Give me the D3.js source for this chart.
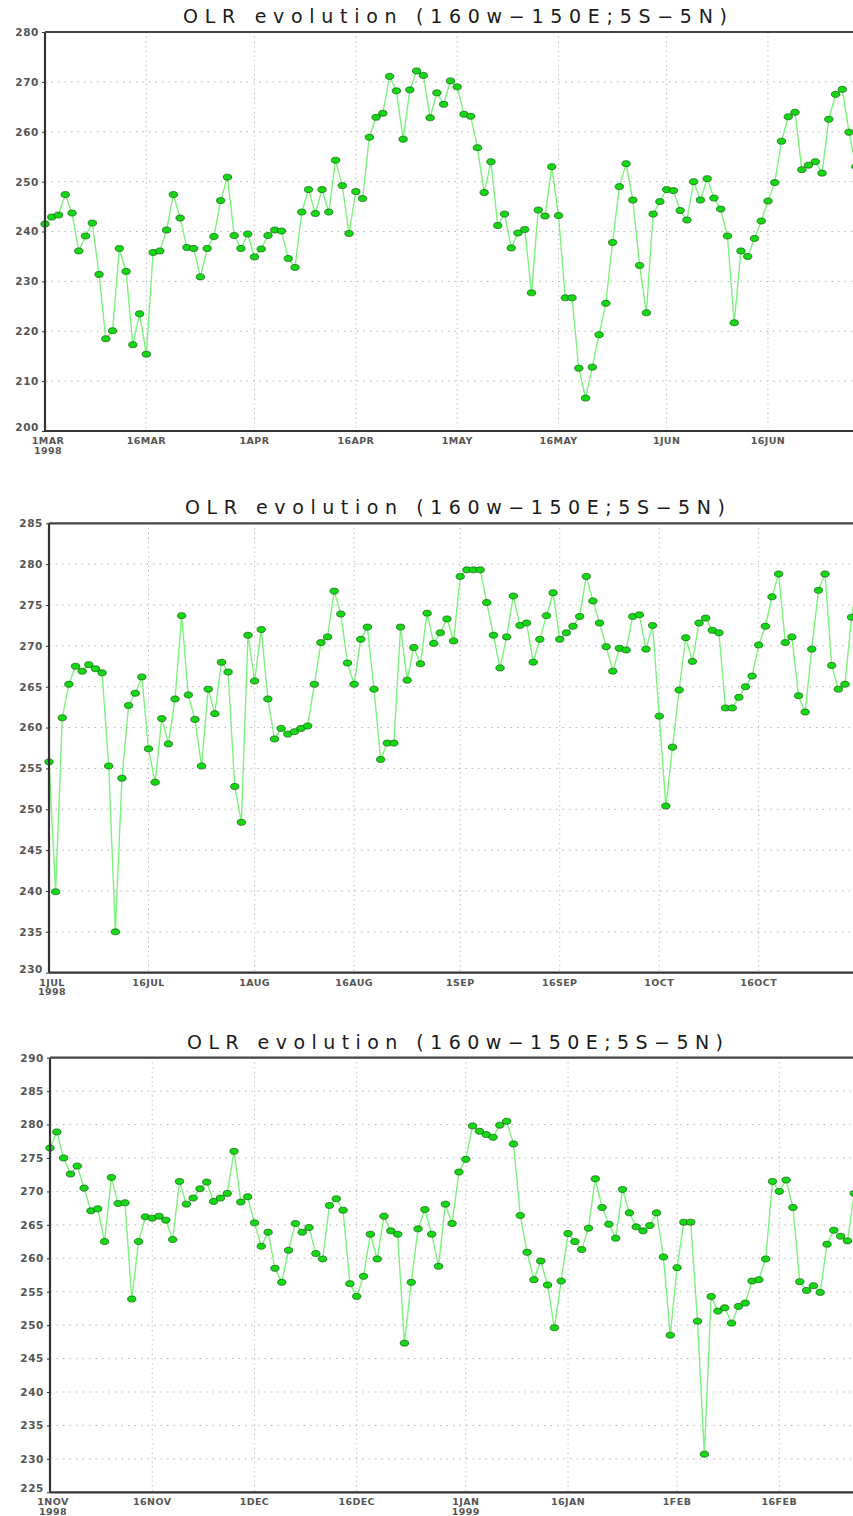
<!DOCTYPE html>
<html>
<head>
<meta charset="utf-8">
<script src="https://cdn.jsdelivr.net/npm/d3@7"></script>
<style>
  html, body { margin: 0; padding: 0; background: #fff; }
  svg { display: block; }
</style>
</head>
<body>
<svg id="chart" width="853" height="1516"></svg>
<script>
// ---------------- DATA ----------------
const titleText = "OLR evolution (160w\u2212150E;5S\u22125N)";

// Panel 1: daily OLR from 1 MAR 1998
const start1 = "1998-03-01";
const values1 = [
  241.5, 242.9, 243.3, 247.4, 243.7, 236.1, 239.1, 241.7, 231.4, 218.5,
  220.1, 236.6, 232.0, 217.3, 223.5, 215.4, 235.8, 236.1, 240.3, 247.4,
  242.7, 236.8, 236.6, 230.9, 236.6, 239.0, 246.2, 250.9, 239.2, 236.6,
  239.5, 234.9, 236.5, 239.2, 240.3, 240.1, 234.6, 232.8, 243.9, 248.4,
  243.6, 248.4, 243.9, 254.3, 249.2, 239.6, 248.0, 246.6, 258.9, 262.9,
  263.7, 271.1, 268.2, 258.5, 268.4, 272.2, 271.3, 262.8, 267.8, 265.5,
  270.2, 269.0, 263.5, 263.1, 256.8, 247.8, 254.0, 241.2, 243.5, 236.7,
  239.7, 240.4, 227.7, 244.3, 243.1, 253.0, 243.2, 226.7, 226.7, 212.6,
  206.6, 212.8, 219.3, 225.6, 237.8, 249.0, 253.6, 246.3, 233.2, 223.7,
  243.5, 246.0, 248.4, 248.2, 244.2, 242.3, 250.0, 246.3, 250.6, 246.7,
  244.5, 239.1, 221.7, 236.1, 235.0, 238.6, 242.1, 246.1, 249.8, 258.1,
  263.0, 263.9, 252.4, 253.3, 254.0, 251.7, 262.5, 267.5, 268.5, 259.9,
  253.0
];
const ticks1 = ["1998-03-01","1998-03-16","1998-04-01","1998-04-16","1998-05-01","1998-05-16","1998-06-01","1998-06-16"];
const yTicks1 = [200, 210, 220, 230, 240, 250, 260, 270, 280];

// Panel 2: daily OLR from 1 JUL 1998
const start2 = "1998-07-01";
const values2 = [
  255.8, 239.9, 261.2, 265.3, 267.5, 266.9, 267.7, 267.2, 266.7, 255.3,
  235.0, 253.8, 262.7, 264.2, 266.2, 257.4, 253.3, 261.1, 258.0, 263.5,
  273.7, 264.0, 261.0, 255.3, 264.7, 261.7, 268.0, 266.8, 252.8, 248.4,
  271.3, 265.7, 272.0, 263.5, 258.6, 259.9, 259.2, 259.5, 259.9, 260.2,
  265.3, 270.4, 271.1, 276.7, 273.9, 267.9, 265.3, 270.8, 272.3, 264.7,
  256.1, 258.1, 258.1, 272.3, 265.8, 269.8, 267.8, 274.0, 270.3, 271.6,
  273.3, 270.6, 278.5, 279.3, 279.3, 279.3, 275.3, 271.3, 267.3, 271.1,
  276.1, 272.5, 272.8, 268.0, 270.8, 273.7, 276.5, 270.8, 271.6, 272.4,
  273.6, 278.5, 275.5, 272.8, 269.9, 266.9, 269.7, 269.5, 273.6, 273.8,
  269.6, 272.5, 261.4, 250.4, 257.6, 264.6, 271.0, 268.1, 272.8, 273.4,
  271.9, 271.6, 262.4, 262.4, 263.7, 265.0, 266.3, 270.1, 272.4, 276.0,
  278.8, 270.4, 271.1, 263.9, 261.9, 269.6, 276.8, 278.8, 267.6, 264.7,
  265.3, 273.5, 279.0
];
const ticks2 = ["1998-07-01","1998-07-16","1998-08-01","1998-08-16","1998-09-01","1998-09-16","1998-10-01","1998-10-16"];
const yTicks2 = [230, 235, 240, 245, 250, 255, 260, 265, 270, 275, 280, 285];

// Panel 3: daily OLR from 1 NOV 1998
const start3 = "1998-11-01";
const values3 = [
  276.5, 278.9, 275.0, 272.6, 273.8, 270.5, 267.1, 267.4, 262.5, 272.1,
  268.2, 268.3, 253.9, 262.5, 266.2, 266.0, 266.3, 265.7, 262.8, 271.5,
  268.1, 269.0, 270.4, 271.4, 268.5, 269.0, 269.7, 276.0, 268.4, 269.2,
  265.3, 261.8, 263.9, 258.5, 256.4, 261.2, 265.2, 263.9, 264.6, 260.7,
  259.9, 267.9, 268.9, 267.2, 256.2, 254.3, 257.3, 263.6, 259.9, 266.3,
  264.1, 263.6, 247.3, 256.4, 264.4, 267.3, 263.6, 258.8, 268.1, 265.2,
  272.9, 274.8, 279.8, 279.0, 278.5, 278.1, 279.9, 280.5, 277.1, 266.4,
  260.9, 256.8, 259.6, 256.0, 249.6, 256.6, 263.7, 262.5, 261.3, 264.5,
  271.9, 267.6, 265.1, 263.0, 270.3, 266.8, 264.7, 264.1, 264.9, 266.8,
  260.2, 248.5, 258.6, 265.4, 265.4, 250.6, 230.7, 254.3, 252.1, 252.6,
  250.3, 252.8, 253.3, 256.6, 256.8, 259.9, 271.5, 270.0, 271.7, 267.6,
  256.5, 255.2, 255.9, 254.9, 262.1, 264.2, 263.3, 262.6, 269.7
];
const ticks3 = ["1998-11-01","1998-11-16","1998-12-01","1998-12-16","1999-01-01","1999-01-16","1999-02-01","1999-02-16"];
const yTicks3 = [225, 230, 235, 240, 245, 250, 255, 260, 265, 270, 275, 280, 285, 290];

// ---------------- DRAWING ----------------
const svg = d3.select("#chart");
const W = 853;
const MON = ["JAN","FEB","MAR","APR","MAY","JUN","JUL","AUG","SEP","OCT","NOV","DEC"];
const parse = d3.utcParse("%Y-%m-%d");
const FONT = "DejaVu Sans, Liberation Sans, sans-serif";

function drawPanel(cfg, start, values, tickDates, yTicks) {
  const t0 = parse(start);
  const data = values.map((v, i) => ({ date: d3.utcDay.offset(t0, i), v }));
  const tEnd = d3.utcDay.offset(t0, cfg.days);

  const x = d3.scaleUtc().domain([t0, tEnd]).range([cfg.left, cfg.left + cfg.days * cfg.pxDay]);
  const y = d3.scaleLinear().domain([yTicks[0], yTicks[yTicks.length - 1]]).range([cfg.bottom, cfg.top]);

  const g = svg.append("g");

  // title
  g.append("text")
    .attr("x", cfg.titleX)
    .attr("y", cfg.titleY)
    .attr("textLength", cfg.titleW)
    .attr("lengthAdjust", "spacing")
    .attr("font-family", FONT)
    .attr("font-size", 19)
    .attr("fill", "#1a1a1a")
    .text(titleText);

  // grid
  g.selectAll(".hgrid").data(yTicks.slice(1, -1)).join("line")
    .attr("x1", cfg.left).attr("x2", W)
    .attr("y1", d => y(d)).attr("y2", d => y(d))
    .attr("stroke", "#b5b5b5").attr("stroke-width", 1).attr("stroke-dasharray", "1.5,5");
  g.selectAll(".vgrid").data(tickDates.slice(1).map(parse)).join("line")
    .attr("x1", d => x(d)).attr("x2", d => x(d))
    .attr("y1", cfg.top).attr("y2", cfg.bottom)
    .attr("stroke", "#b5b5b5").attr("stroke-width", 1).attr("stroke-dasharray", "1.2,3.5");

  // line + markers
  const line = d3.line().x(d => x(d.date)).y(d => y(d.v));
  const clipId = "clip" + cfg.top.toFixed(0);
  svg.append("clipPath").attr("id", clipId).append("rect")
    .attr("x", cfg.left - 6).attr("y", cfg.top - 6)
    .attr("width", W).attr("height", cfg.bottom - cfg.top + 12);
  const pg = g.append("g").attr("clip-path", `url(#${clipId})`);
  pg.append("path").datum(data)
    .attr("d", line)
    .attr("fill", "none")
    .attr("stroke", "#7cf27c")
    .attr("stroke-width", 1.4);
  pg.selectAll("ellipse").data(data).join("ellipse")
    .attr("cx", d => x(d.date)).attr("cy", d => y(d.v))
    .attr("rx", 4.2).attr("ry", 3)
    .attr("fill", "#14d814")
    .attr("stroke", "#0a5a0a").attr("stroke-width", 0.7);

  // frame
  const fr = g.append("g").attr("stroke", "#333").attr("stroke-width", 2.2);
  fr.append("line").attr("x1", cfg.left).attr("x2", cfg.left).attr("y1", cfg.top).attr("y2", cfg.bottom);
  fr.append("line").attr("x1", cfg.left).attr("x2", W).attr("y1", cfg.bottom).attr("y2", cfg.bottom);
  fr.append("line").attr("x1", cfg.left).attr("x2", W).attr("y1", cfg.top).attr("y2", cfg.top).attr("stroke", "#444");

  // y axis (labels + small ticks)
  const yAxis = d3.axisLeft(y).tickValues(yTicks).tickSize(3).tickPadding(3).tickFormat(d3.format("d"));
  const ya = g.append("g").attr("transform", `translate(${cfg.left},0)`).call(yAxis);
  ya.select(".domain").remove();
  ya.selectAll("line").attr("stroke", "#333");
  ya.selectAll("text")
    .attr("font-family", FONT)
    .attr("font-size", 10.5)
    .attr("font-weight", "bold")
    .attr("letter-spacing", 0.6)
    .attr("fill", "#555")
    .attr("dy", (d, i) => i === 0 ? "-0.05em" : "0.32em");

  // x axis labels
  const tks = tickDates.map(parse);
  const xl = g.append("g");
  tks.forEach((d, i) => {
    const lbl = d.getUTCDate() + MON[d.getUTCMonth()];
    const lx = i === 0 ? x(d) + 3 : x(d);
    xl.append("text")
      .attr("x", lx).attr("y", cfg.bottom + 13)
      .attr("text-anchor", "middle")
      .attr("font-family", FONT)
      .attr("font-size", 9.5)
      .attr("font-weight", "bold")
      .attr("letter-spacing", 0.4)
      .attr("fill", "#555")
      .text(lbl);
    if (i === 0 || (d.getUTCMonth() === 0 && d.getUTCDate() === 1)) {
      xl.append("text")
        .attr("x", lx).attr("y", cfg.bottom + 22.5)
        .attr("text-anchor", "middle")
        .attr("font-family", FONT)
        .attr("font-size", 9.5)
        .attr("font-weight", "bold")
        .attr("letter-spacing", 0.4)
        .attr("fill", "#555")
        .text(d.getUTCFullYear());
    }
  });
}

drawPanel({ left: 45, top: 32, bottom: 431, pxDay: 6.757, days: 122,
            titleX: 183, titleY: 23, titleW: 544 }, start1, values1, ticks1, yTicks1);
drawPanel({ left: 49, top: 523.3, bottom: 972.7, pxDay: 6.633, days: 123,
            titleX: 185, titleY: 514, titleW: 540 }, start2, values2, ticks2, yTicks2);
drawPanel({ left: 50, top: 1057.7, bottom: 1492.3, pxDay: 6.816, days: 120,
            titleX: 187, titleY: 1049, titleW: 536 }, start3, values3, ticks3, yTicks3);
</script>
</body>
</html>
